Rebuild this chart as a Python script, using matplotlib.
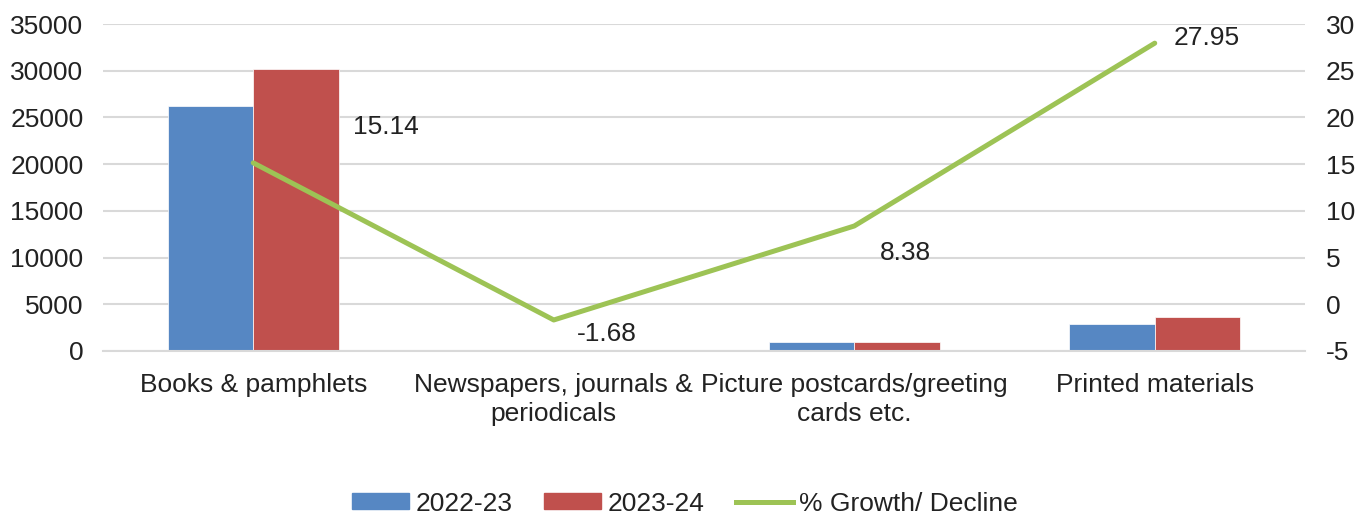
import matplotlib
matplotlib.use("Agg")
import matplotlib.pyplot as plt
import numpy as np
from matplotlib.patches import Patch
from matplotlib.lines import Line2D

plt.rcParams['font.family'] = ['Liberation Sans', 'DejaVu Sans']
plt.rcParams['axes.unicode_minus'] = False

categories = ["Books & pamphlets", "Newspapers, journals &\nperiodicals",
              "Picture postcards/greeting\ncards etc.", "Printed materials"]
values_2022 = [26200, 30, 930, 2890]
values_2023 = [30200, 29.5, 1000, 3640]
growth = [15.14, -1.68, 8.38, 27.95]
growth_labels = ["15.14", "-1.68", "8.38", "27.95"]
label_offsets_px = [(133, 36), (53, -14), (51, -27), (52, 5)]

c_blue = "#5687C3"
c_red = "#C0504D"
c_green = "#9DC355"
fs = 19

fig = plt.figure(figsize=(13.7, 5.15), dpi=100)
ax = fig.add_axes([103/1370, 1-351/515, (1305-103)/1370, (351-24)/515])
x = np.arange(len(categories))
w = 0.285
ax.bar(x - w/2, values_2022, width=w, color=c_blue, edgecolor="white", linewidth=0.5, zorder=2)
ax.bar(x + w/2, values_2023, width=w, color=c_red, edgecolor="white", linewidth=0.5, zorder=2)
ax.set_xlim(-0.5, len(categories) - 0.5)
ax.set_ylim(0, 35000)
ax.set_yticks(np.arange(0, 35001, 5000))
ax.yaxis.grid(True, color="#d9d9d9", linewidth=1.5)
ax.set_axisbelow(True)
for s in ax.spines.values():
    s.set_visible(False)
ax.spines['bottom'].set_visible(True)
ax.spines['bottom'].set_color("#d9d9d9")
ax.spines['bottom'].set_linewidth(1.5)
ax.tick_params(axis='y', length=0, pad=14, labelsize=fs, colors="#222222")
ax.set_xticks(x)
ax.set_xticklabels(categories, fontsize=fs, color="#222222", linespacing=1.25)
ax.tick_params(axis='x', length=0, pad=16)

ax2 = ax.twinx()
ax2.plot(x, growth, color=c_green, linewidth=3.6, solid_capstyle='round', zorder=3)
ax2.set_ylim(-5, 30)
ax2.set_yticks(np.arange(-5, 31, 5))
for s in ax2.spines.values():
    s.set_visible(False)
ax2.tick_params(axis='y', length=0, pad=15, labelsize=fs, colors="#222222")
for xi, g, lab, off in zip(x, growth, growth_labels, label_offsets_px):
    ax2.annotate(lab, (xi, g), xytext=off, textcoords='offset pixels',
                 ha='center', va='center', fontsize=fs, color="#222222")

handles = [Patch(color=c_blue, label="2022-23"),
           Patch(color=c_red, label="2023-24"),
           Line2D([0], [0], color=c_green, linewidth=3.6, label="% Growth/ Decline")]
fig.legend(handles=handles, loc='center', bbox_to_anchor=(0.5, 0.022), ncol=3,
           frameon=False, fontsize=fs, handlelength=2.15, handleheight=0.57,
           columnspacing=1.2, handletextpad=0.25, labelcolor="#222222")

fig.savefig("out.png", dpi=100)
